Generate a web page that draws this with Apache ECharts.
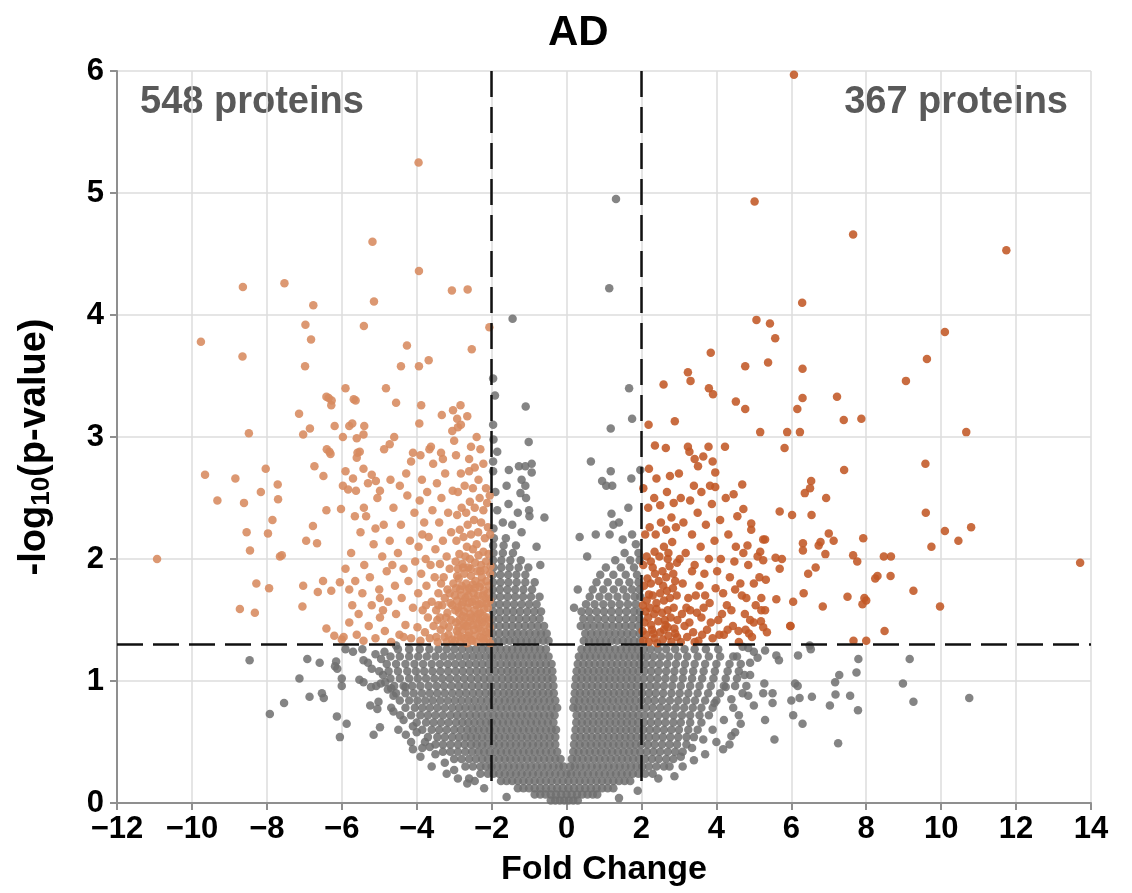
<!DOCTYPE html>
<html><head><meta charset="utf-8">
<script src="https://cdn.jsdelivr.net/npm/echarts@6/dist/echarts.min.js"></script>
<style>html,body{margin:0;padding:0;background:#fff}#c{width:1132px;height:893px}</style>
</head><body><div id="c"></div>
<script>
const chartTitle = 'AD';
const xAxisName = 'Fold Change';
const downLabel = '548 proteins';
const upLabel = '367 proteins';
const foldCut = 2;
const pCut = 1.301;
const xRange = [-12, 14, 2];
const yRange = [0, 6, 1];

// grey (not significant) points, dense rows: [y, [x ...]]
const grayRows = [
[0.02,[-0.42,-0.3,-0.18,-0.06,0.06,0.18,0.3]],
[0.07,[-0.85,-0.7,-0.56,-0.42,-0.28,-0.14,0,0.14,0.28,0.42,0.56,0.7,0.82]],
[0.12,[-1.3,-1.15,-1,-0.85,-0.7,-0.55,-0.4,-0.25,-0.1,0.05,0.2,0.35,0.5,0.65,0.8,0.95,1.1,1.25]],
[0.18,[-1.75,-1.6,-1.45,-1.3,-1.15,-1,-0.85,-0.7,-0.55,-0.4,-0.25,-0.1,0.05,0.2,0.35,0.5,0.65,0.8,0.95,1.1,1.25,1.4,1.55,1.7]],
[0.24,[-2.3,-2.1,-1.95,-1.8,-1.65,-1.5,-1.35,-1.2,-1.05,-0.9,-0.75,-0.6,-0.45,-0.3,-0.15,0,0.12,0.27,0.42,0.57,0.72,0.87,1.02,1.17,1.32,1.47,1.62,1.77,1.92,2.1,2.3]],
[0.30,[-2.7,-2.5,-2.3,-2.15,-2,-1.85,-1.7,-1.55,-1.4,-1.25,-1.1,-0.95,-0.8,-0.65,-0.5,-0.35,-0.2,-0.08,0.1,0.22,0.37,0.52,0.67,0.82,0.97,1.12,1.27,1.42,1.57,1.72,1.87,2.02,2.2,2.4,2.6]],
[0.36,[-3.0,-2.8,-2.6,-2.42,-2.25,-2.1,-1.95,-1.8,-1.65,-1.5,-1.35,-1.2,-1.05,-0.9,-0.75,-0.6,-0.45,-0.3,-0.16,0.14,0.28,0.43,0.58,0.73,0.88,1.03,1.18,1.33,1.48,1.63,1.78,1.93,2.1,2.28,2.46,2.66,2.85]],
[0.42,[-3.3,-3.1,-2.9,-2.7,-2.52,-2.35,-2.2,-2.05,-1.9,-1.75,-1.6,-1.45,-1.3,-1.15,-1,-0.85,-0.7,-0.55,-0.4,-0.25,0.18,0.32,0.47,0.62,0.77,0.92,1.07,1.22,1.37,1.52,1.67,1.82,1.97,2.14,2.32,2.5,2.7,2.9,3.1]],
[0.48,[-3.5,-3.3,-3.1,-2.9,-2.72,-2.55,-2.4,-2.25,-2.1,-1.95,-1.8,-1.65,-1.5,-1.35,-1.2,-1.05,-0.9,-0.75,-0.6,-0.45,-0.3,0.2,0.35,0.5,0.65,0.8,0.95,1.1,1.25,1.4,1.55,1.7,1.85,2.0,2.17,2.35,2.55,2.75,2.95,3.2]],
[0.54,[-3.7,-3.45,-3.25,-3.05,-2.87,-2.7,-2.55,-2.4,-2.25,-2.1,-1.95,-1.8,-1.65,-1.5,-1.35,-1.2,-1.05,-0.9,-0.75,-0.6,-0.45,-0.3,0.22,0.37,0.52,0.67,0.82,0.97,1.12,1.27,1.42,1.57,1.72,1.87,2.03,2.2,2.38,2.57,2.77,2.98,3.2,3.4]],
[0.60,[-3.85,-3.6,-3.4,-3.2,-3.0,-2.82,-2.65,-2.5,-2.35,-2.2,-2.05,-1.9,-1.75,-1.6,-1.45,-1.3,-1.15,-1,-0.85,-0.7,-0.55,-0.4,-0.28,0.24,0.39,0.54,0.69,0.84,0.99,1.14,1.29,1.44,1.59,1.74,1.89,2.05,2.22,2.4,2.6,2.8,3.0,3.25,3.5]],
[0.66,[-4.0,-3.75,-3.55,-3.35,-3.15,-2.95,-2.78,-2.62,-2.46,-2.3,-2.15,-2.0,-1.85,-1.7,-1.55,-1.4,-1.25,-1.1,-0.95,-0.8,-0.65,-0.5,-0.35,0.26,0.41,0.56,0.71,0.86,1.01,1.16,1.31,1.46,1.61,1.76,1.91,2.07,2.25,2.44,2.64,2.85,3.05,3.3,3.6]],
[0.72,[-4.15,-3.9,-3.7,-3.5,-3.3,-3.1,-2.92,-2.75,-2.58,-2.42,-2.26,-2.1,-1.95,-1.8,-1.65,-1.5,-1.35,-1.2,-1.05,-0.9,-0.75,-0.6,-0.45,-0.32,0.27,0.42,0.57,0.72,0.87,1.02,1.17,1.32,1.47,1.62,1.77,1.92,2.08,2.26,2.45,2.65,2.86,3.08,3.3,3.55,3.8]],
[0.78,[-4.3,-4.05,-3.85,-3.65,-3.45,-3.25,-3.05,-2.87,-2.7,-2.53,-2.37,-2.21,-2.05,-1.9,-1.75,-1.6,-1.45,-1.3,-1.15,-1,-0.85,-0.7,-0.55,-0.4,-0.25,0.18,0.3,0.45,0.6,0.75,0.9,1.05,1.2,1.35,1.5,1.65,1.8,1.95,2.12,2.3,2.5,2.7,2.92,3.14,3.37,3.6,3.9]],
[0.84,[-4.45,-4.2,-3.98,-3.77,-3.57,-3.37,-3.17,-2.98,-2.8,-2.62,-2.45,-2.28,-2.12,-1.96,-1.8,-1.65,-1.5,-1.35,-1.2,-1.05,-0.9,-0.75,-0.6,-0.45,-0.3,0.2,0.34,0.49,0.64,0.79,0.94,1.09,1.24,1.39,1.54,1.69,1.84,2.0,2.17,2.35,2.55,2.76,2.98,3.2,3.43,3.7,4.0]],
[0.90,[-4.55,-4.3,-4.08,-3.86,-3.65,-3.45,-3.25,-3.05,-2.86,-2.68,-2.5,-2.33,-2.16,-2.0,-1.84,-1.68,-1.53,-1.38,-1.23,-1.08,-0.93,-0.78,-0.63,-0.48,-0.34,0.22,0.36,0.51,0.66,0.81,0.96,1.11,1.26,1.41,1.56,1.71,1.86,2.02,2.2,2.38,2.58,2.8,3.02,3.25,3.5,3.78,4.1]],
[0.96,[-4.6,-4.35,-4.12,-3.9,-3.68,-3.47,-3.27,-3.07,-2.88,-2.7,-2.52,-2.35,-2.18,-2.02,-1.86,-1.7,-1.55,-1.4,-1.25,-1.1,-0.95,-0.8,-0.65,-0.5,-0.35,0.23,0.38,0.53,0.68,0.83,0.98,1.13,1.28,1.43,1.58,1.73,1.88,2.04,2.22,2.4,2.6,2.82,3.05,3.3,3.55,3.85,4.2,4.5]],
[1.02,[-4.7,-4.45,-4.2,-3.97,-3.75,-3.53,-3.32,-3.12,-2.92,-2.73,-2.55,-2.37,-2.2,-2.04,-1.88,-1.72,-1.56,-1.41,-1.26,-1.11,-0.96,-0.81,-0.66,-0.51,-0.37,0.25,0.4,0.55,0.7,0.85,1.0,1.15,1.3,1.45,1.6,1.75,1.9,2.06,2.24,2.43,2.64,2.86,3.1,3.35,3.62,3.92,4.25,4.55]],
[1.08,[-4.75,-4.5,-4.25,-4.02,-3.8,-3.58,-3.37,-3.16,-2.96,-2.77,-2.58,-2.4,-2.23,-2.06,-1.9,-1.74,-1.58,-1.43,-1.28,-1.13,-0.98,-0.83,-0.68,-0.53,-0.38,0.27,0.42,0.57,0.72,0.87,1.02,1.17,1.32,1.47,1.62,1.77,1.92,2.08,2.26,2.45,2.66,2.88,3.12,3.38,3.66,3.96,4.3,4.6]],
[1.14,[-4.8,-4.55,-4.3,-4.06,-3.83,-3.6,-3.38,-3.17,-2.97,-2.78,-2.6,-2.42,-2.25,-2.08,-1.92,-1.76,-1.6,-1.45,-1.3,-1.15,-1.0,-0.85,-0.7,-0.55,-0.4,0.3,0.45,0.6,0.75,0.9,1.05,1.2,1.35,1.5,1.65,1.8,1.95,2.11,2.29,2.48,2.69,2.92,3.16,3.42,3.7,4.0,4.35,4.65]],
[1.20,[-4.7,-4.45,-4.2,-3.96,-3.73,-3.5,-3.28,-3.07,-2.87,-2.68,-2.5,-2.33,-2.16,-2.0,-1.84,-1.68,-1.53,-1.38,-1.23,-1.08,-0.93,-0.78,-0.63,-0.48,0.33,0.48,0.63,0.78,0.93,1.08,1.23,1.38,1.53,1.68,1.83,1.98,2.14,2.32,2.52,2.74,2.97,3.22,3.5,3.8,4.1,4.45]],
[1.26,[-4.5,-4.2,-3.92,-3.66,-3.42,-3.2,-2.99,-2.79,-2.6,-2.42,-2.25,-2.08,-1.92,-1.76,-1.6,-1.45,-1.3,-1.15,-1.0,-0.85,-0.7,-0.55,0.4,0.55,0.7,0.85,1.0,1.15,1.3,1.45,1.6,1.75,1.9,2.06,2.24,2.44,2.66,2.9,3.15,3.42,3.72,4.05]],
[1.33,[-1.97,-1.82,-1.67,-1.52,-1.37,-1.22,-1.07,-0.92,-0.77,-0.62,-0.48,0.46,0.6,0.75,0.9,1.05,1.2,1.35,1.5,1.65,1.8,1.96]],
[1.39,[-1.97,-1.8,-1.63,-1.47,-1.31,-1.15,-0.99,-0.83,-0.68,-0.53,0.5,0.66,0.82,0.98,1.14,1.3,1.46,1.62,1.78,1.95]],
[1.45,[-1.96,-1.79,-1.62,-1.45,-1.28,-1.11,-0.94,-0.77,-0.6,0.38,0.55,0.72,0.89,1.06,1.23,1.4,1.57,1.74,1.92]],
[1.51,[-1.97,-1.8,-1.62,-1.44,-1.26,-1.08,-0.9,-0.72,0.45,0.64,0.83,1.02,1.21,1.4,1.59,1.78,1.95]],
[1.57,[-1.96,-1.78,-1.6,-1.42,-1.24,-1.05,-0.86,-0.68,0.4,0.6,0.8,1.0,1.2,1.4,1.6,1.8,1.96]],
[1.63,[-1.97,-1.79,-1.6,-1.4,-1.2,-1.0,-0.8,0.52,0.75,0.98,1.2,1.42,1.64,1.85]],
[1.69,[-1.96,-1.77,-1.57,-1.37,-1.16,-0.95,-0.72,0.62,0.88,1.12,1.36,1.6,1.82,1.97]],
[1.75,[-1.97,-1.78,-1.58,-1.37,-1.15,-0.92,0.7,0.98,1.26,1.52,1.75,1.95]],
[1.81,[-1.96,-1.76,-1.55,-1.33,-1.1,-0.85,0.8,1.1,1.4,1.68,1.92]],
[1.87,[-1.97,-1.77,-1.56,-1.34,-1.1,0.9,1.25,1.58,1.88]],
[1.93,[-1.95,-1.74,-1.52,-1.28,-1.02,1.05,1.45,1.8]],
[1.99,[-1.96,-1.74,-1.5,-1.22,1.3,1.7,1.95]],
[2.05,[-1.95,-1.7,-1.43,1.55,1.92]],
[2.11,[-1.96,-1.68,-1.35]],
[2.17,[-1.94,-1.62]]
];

// grey scattered points: [x, y]
const graySparse = [
[-8.46,1.17],[-7.92,0.73],[-7.54,0.82],[-7.13,1.02],[-6.92,1.18],[-6.59,1.15],[-6.86,0.87],[-6.53,0.9],[-6.48,0.86],[-6.15,1.16],[-6.12,1.1],[-6.18,1.12],[-6.13,0.71],[-5.87,0.65],[-6.05,0.54],[-6.0,1.02],[-6.0,0.96],[-5.9,1.26],[-5.45,1.26],[-5.42,1.17],[-5.2,1.1],[-5.53,1.01],[-5.42,0.99],[-5.22,0.95],[-5.08,0.96],[-4.96,0.98],[-4.84,0.99],[-4.77,0.93],[-4.68,0.94],[-5.24,0.8],[-5.02,0.83],[-5.05,0.77],[-4.68,0.78],[-4.62,0.75],[-4.44,0.72],[-4.98,0.62],[-5.15,0.56],[-4.49,0.6],[-4.29,0.56],[-4.15,0.5],[-4.86,1.24],[-4.95,1.18],[-5.1,1.22],[-5.7,1.24],[-5.3,1.15],[-3.2,0.24],[-2.6,0.2],[-2.45,0.18],[-3.9,0.38],[-3.6,0.3],[-2.9,0.2],[-4.1,0.44],[-3.85,0.45],
[-4.9,1.05],[-4.62,0.88],[-4.35,0.68],[-4.0,0.58],[-3.78,0.5],[-3.5,0.4],[-3.25,0.33],[-3.0,0.27],[-2.65,0.16],[-2.2,0.12],[-1.6,0.05],[-4.55,1.29],[-4.3,0.95],[-5.0,1.08],[-4.1,0.63],[-3.65,0.46],
[-1.95,2.25],[-1.7,2.3],[-1.45,2.28],[-1.2,2.22],[-1.85,2.4],[-1.55,2.45],[-1.3,2.38],[-1.0,2.4],[-1.9,2.55],[-1.6,2.6],[-1.23,2.54],[-1.08,2.5],[-1.96,2.72],[-1.54,2.73],[-1.27,2.76],[-1.1,2.76],[-0.93,2.78],[-0.93,2.71],[-1.2,2.65],[-1.1,2.6],[-1.85,2.88],[-1.96,2.8],[-1.01,2.96],[-1.95,2.98],[-1.96,3.1],[-1.91,3.34],[-1.96,3.48],[-1.09,3.25],[-0.59,2.34],[-0.99,2.35],[-0.8,2.1],[-0.7,1.95],[-1.44,3.97],
[1.67,3.4],[1.75,3.15],[1.18,3.07],[0.65,2.8],[1.18,2.72],[0.95,2.64],[1.06,2.6],[1.22,2.6],[1.73,2.66],[1.97,2.73],[1.65,2.42],[1.2,2.37],[1.25,2.28],[1.4,2.3],[0.35,2.18],[0.78,2.2],[1.15,2.2],[1.5,2.16],[1.75,2.2],[1.85,2.12],[0.55,2.02],[1.32,4.95],[1.14,4.22],[0.3,1.75],[0.2,1.6],
[4.7,0.9],[4.45,0.78],[4.2,0.68],[3.9,0.6],[3.65,0.52],[3.35,0.45],[3.05,0.38],[2.75,0.3],[2.45,0.2],[1.9,0.1],[1.4,0.04],[4.55,1.2],[4.25,0.95],[3.95,0.82],[4.9,1.05],
[10.75,0.86],[9.26,0.83],[8.98,0.98],[9.16,1.18],[7.79,1.18],[7.74,1.07],[7.78,0.76],[7.28,1.05],[7.17,0.99],[7.18,0.89],[7.57,0.88],[7.03,0.8],[7.25,0.49],[6.49,1.29],[6.52,1.26],[6.18,1.21],[6.1,0.98],[6.17,0.96],[6.0,0.84],[6.22,0.86],[6.55,0.87],[6.05,0.72],[6.3,0.65],[5.6,1.21],[5.67,1.17],[5.5,0.9],[5.5,0.82],[5.55,0.52],[5.3,0.68],[5.25,0.9],[5.28,0.98],[5.1,1.19],[5.0,1.24],[4.8,0.96],[4.85,0.88],[5.0,0.8],[4.6,0.72],[4.4,0.55],[4.5,0.58],[4.0,0.5],[4.18,0.44],[4.35,0.48],[2.88,0.22],[4.7,1.28],[4.9,1.15],[5.3,1.25],[4.65,0.65],[4.75,1.05],[3.4,0.35],[3.7,0.4],[3.1,0.3],[4.85,1.27],[4.4,0.85]
];

// significant, lower (left)
const downPoints = [
[-3.95,5.25],[-5.18,4.6],[-3.94,4.36],[-8.64,4.23],[-7.53,4.26],[-3.06,4.2],[-2.64,4.21],[-5.14,4.11],[-6.76,4.08],[-6.97,3.92],[-5.41,3.91],[-2.06,3.9],[-9.76,3.78],[-6.82,3.8],[-4.26,3.75],[-2.53,3.72],[-8.65,3.66],[-6.98,3.58],[-4.42,3.58],[-3.94,3.58],[-3.68,3.63],[-5.9,3.4],[-4.82,3.4],[-6.41,3.33],[-6.35,3.32],[-6.27,3.3],[-6.28,3.26],[-5.68,3.31],[-5.63,3.3],[-4.55,3.28],[-3.88,3.26],[-2.83,3.26],[-3.03,3.22],[-2.65,3.17],[-7.14,3.19],[-3.33,3.18],[-2.92,3.15],[-2.9,3.08],[-2.82,3.1],[-3.93,3.11],[-6.19,3.09],[-5.8,3.09],[-5.72,3.11],[-5.4,3.09],[-6.85,3.07],[-7.03,3.02],[-8.48,3.03],[-5.97,3.0],[-5.6,2.99],[-5.42,3.02],[-4.6,3.0],[-4.72,2.94],[-4.87,2.9],[-2.4,3.0],[-2.55,2.92],[-2.3,2.9],[-2.22,2.78],[-2.45,2.75],[-2.6,2.72],[-3.66,2.9],[-4.1,2.87],[-3.35,2.87],[-3.0,2.97],[-3.05,3.05],[-6.4,2.9],[-6.33,2.88],[-6.3,2.86],[-5.58,2.87],[-5.52,2.88],[-5.6,2.83],[-6.73,2.76],[-6.49,2.68],[-8.03,2.74],[-9.65,2.69],[-8.84,2.66],[-7.71,2.61],[-5.9,2.72],[-5.7,2.66],[-5.97,2.6],[-5.83,2.57],[-5.42,2.74],[-5.2,2.69],[-5.09,2.64],[-4.98,2.56],[-9.32,2.48],[-8.61,2.46],[-8.16,2.55],[-7.7,2.49],[-6.41,2.4],[-6.02,2.41],[-5.41,2.42],[-7.85,2.32],[-7.97,2.21],[-8.54,2.22],[-8.45,2.07],[-7.65,2.02],[-7.6,2.03],[-10.93,2.0],[-6.77,2.27],[-6.95,2.15],[-6.66,2.13],[-8.28,1.8],[-7.94,1.76],[-8.72,1.59],[-8.32,1.56],[-7.03,1.78],[-6.5,1.82],[-6.64,1.73],[-6.28,1.74],[-6.05,1.81],[-5.64,1.82],[-7.05,1.61],[-6.41,1.43],[-6.2,1.37],[-6.0,1.34],
[-5.95,1.36],[-5.8,1.48],[-5.72,1.62],[-5.9,1.92],[-5.75,2.05],[-5.6,1.38],[-5.55,1.55],[-5.45,1.72],[-5.5,2.22],[-5.4,1.95],[-5.35,2.35],[-5.28,1.45],[-5.25,1.85],[-5.2,1.62],[-5.15,2.12],[-5.1,1.35],[-5.05,2.5],[-5.0,1.75],[-4.98,1.52],[-4.92,2.02],[-4.88,2.28],[-4.85,1.41],[-4.8,1.9],[-4.76,1.65],[-4.72,2.15],[-4.68,1.32],[-4.62,2.42],[-4.58,1.78],[-4.55,1.55],[-4.5,2.05],[-4.46,1.38],[-4.42,2.28],[-4.4,1.68],[-4.35,1.92],[-4.3,1.46],[-4.25,2.52],[-4.22,1.82],[-4.18,2.15],[-4.15,1.35],[-4.1,1.6],[-4.06,2.38],[-4.04,1.98],[-5.62,2.56],[-5.3,2.62],[-4.7,2.65],[-4.45,2.6],[-4.9,1.58],[-5.42,1.33],[-4.98,1.68],[-5.1,2.25],[-4.65,1.95],[-4.35,1.36],[-5.8,1.75],[-5.65,2.35],[-4.28,2.7],[-4.15,2.8],
[-3.98,1.44],[-3.96,1.72],[-3.95,2.1],[-3.92,2.48],[-3.9,1.33],[-3.88,1.88],[-3.86,2.65],[-3.84,1.58],[-3.8,2.3],[-3.78,1.4],[-3.76,2.0],[-3.74,1.78],[-3.72,2.55],[-3.7,1.52],[-3.68,2.18],[-3.65,1.35],[-3.63,1.95],[-3.6,1.65],[-3.58,2.4],[-3.56,2.78],[-3.55,1.45],[-3.52,1.85],[-3.5,2.08],[-3.48,1.58],[-3.46,2.62],[-3.44,1.32],[-3.42,1.72],[-3.4,2.3],[-3.38,1.96],[-3.36,1.42],[-3.34,2.5],[-3.32,1.62],[-3.3,2.15],[-3.28,1.85],[-3.26,1.36],[-3.24,2.7],[-3.22,1.52],[-3.2,2.02],[-3.18,1.75],[-3.16,2.38],[-3.14,1.44],[-3.12,1.92],[-3.1,1.64],[-3.08,2.22],[-3.06,1.34],[-3.04,2.56],[-3.02,1.8],[-3.9,2.85],[-3.62,2.92],[-3.3,2.82],[-3.75,1.62],[-3.45,1.5],[-3.85,2.2],[-3.15,1.38],
[-3.48,1.36],[-3.38,1.52],[-3.28,1.46],[-3.18,1.56],[-3.08,1.5],[-3.25,1.68],[-3.12,1.72],[-3.35,1.8],[-3.05,1.62],[-3.42,1.62],[-3.2,1.32],
[-2.98,1.33],[-2.9,1.38],[-2.84,1.32],[-2.78,1.42],[-2.72,1.35],[-2.66,1.31],[-2.6,1.4],[-2.55,1.34],[-2.5,1.46],[-2.45,1.37],[-2.4,1.32],[-2.35,1.43],[-2.3,1.36],[-2.25,1.48],[-2.2,1.33],[-2.15,1.4],[-2.1,1.35],[-2.05,1.44],[-2.95,1.48],[-2.86,1.5],[-2.75,1.47],[-2.68,1.52],[-2.58,1.49],[-2.42,1.52],[-2.32,1.5],[-2.12,1.52],[-2.04,1.31],
[-2.97,1.58],[-2.92,1.66],[-2.87,1.56],[-2.8,1.62],[-2.74,1.57],[-2.7,1.68],[-2.64,1.6],[-2.57,1.55],[-2.52,1.65],[-2.46,1.58],[-2.4,1.62],[-2.36,1.7],[-2.3,1.56],[-2.26,1.64],[-2.2,1.59],[-2.16,1.68],[-2.1,1.6],[-2.05,1.66],[-2.62,1.7],[-2.82,1.7],[-2.48,1.72],
[-2.95,1.76],[-2.88,1.84],[-2.8,1.78],[-2.73,1.88],[-2.68,1.8],[-2.6,1.76],[-2.55,1.86],[-2.5,1.79],[-2.43,1.82],[-2.38,1.9],[-2.32,1.77],[-2.26,1.85],[-2.2,1.74],[-2.14,1.82],[-2.08,1.78],[-2.04,1.88],[-2.9,1.92],[-2.62,1.93],
[-2.96,1.98],[-2.86,2.04],[-2.78,1.96],[-2.7,2.02],[-2.58,2.0],[-2.5,2.08],[-2.44,1.97],[-2.35,2.03],[-2.28,1.95],[-2.22,2.06],[-2.15,1.98],[-2.08,2.04],[-2.03,1.94],[-2.66,2.1],[-2.4,2.12],
[-2.94,2.15],[-2.85,2.24],[-2.75,2.18],[-2.64,2.28],[-2.55,2.2],[-2.47,2.32],[-2.36,2.22],[-2.28,2.3],[-2.18,2.17],[-2.1,2.26],[-2.04,2.2],[-2.92,2.36],[-2.8,2.42],[-2.68,2.38],[-2.58,2.47],[-2.45,2.42],[-2.32,2.5],[-2.22,2.4],[-2.12,2.46],[-2.9,2.55],[-2.72,2.6],[-2.5,2.58],[-2.35,2.65],[-2.15,2.58],[-2.05,2.52],[-2.82,2.7],[-2.6,2.82],[-2.95,2.85],
[-2.93,1.41],[-2.81,1.36],[-2.7,1.45],[-2.63,1.37],[-2.52,1.33],[-2.47,1.42],[-2.38,1.47],[-2.28,1.41],[-2.23,1.35],[-2.17,1.46],[-2.08,1.39],[-2.88,1.44],[-2.77,1.53],[-2.65,1.45],[-2.54,1.52],[-2.36,1.55],[-2.21,1.53],[-2.07,1.5],[-2.9,1.6],[-2.76,1.65],[-2.6,1.64],[-2.44,1.67],[-2.33,1.63],[-2.23,1.7],[-2.12,1.64],[-2.98,1.7],[-2.84,1.75],[-2.66,1.74],[-2.45,1.76],[-2.28,1.8],[-2.1,1.72],[-2.92,1.86],[-2.76,1.93],[-2.56,1.92],[-2.3,1.9],[-2.18,1.91]
];

// significant, higher (right)
const upPoints = [
[6.07,5.97],[5.02,4.93],[7.65,4.66],[11.74,4.53],[6.29,4.1],[5.07,3.96],[5.43,3.93],[10.1,3.86],[5.57,3.81],[3.85,3.69],[9.62,3.64],[3.24,3.53],[3.31,3.46],[2.59,3.43],[9.06,3.46],[3.8,3.4],[3.91,3.35],[4.77,3.58],[5.38,3.61],[6.3,3.56],[4.52,3.29],[4.77,3.23],[6.3,3.32],[6.16,3.23],[7.22,3.33],[7.4,3.14],[7.87,3.15],[2.19,3.1],[2.89,3.13],[5.17,3.04],[5.89,3.04],[6.23,3.04],[10.67,3.04],[5.82,2.91],[2.36,2.93],[2.65,2.91],[3.24,2.92],[3.28,2.88],[3.79,2.92],[4.23,2.92],[3.42,2.82],[3.51,2.76],[3.65,2.84],[3.9,2.8],[3.97,2.71],[3.83,2.6],[3.97,2.59],[2.2,2.74],[3.0,2.7],[7.41,2.73],[9.58,2.78],[6.53,2.64],[6.5,2.58],[6.36,2.54],[6.93,2.5],[4.69,2.61],[4.46,2.53],[9.59,2.38],[10.1,2.23],[10.46,2.15],[10.8,2.26],[9.74,2.1],[5.69,2.39],[6.02,2.36],[6.54,2.36],[13.71,1.97],[7.65,2.03],[7.76,1.98],[8.47,2.02],[8.66,2.02],[8.3,1.86],[8.24,1.84],[8.65,1.86],[9.26,1.74],[7.5,1.69],[7.95,1.68],[8.0,1.66],[7.9,1.63],[9.97,1.61],[8.49,1.41],[7.66,1.33],[8.0,1.33],[6.84,1.61],[6.33,1.72],[6.05,1.65],[5.97,1.45],
[7.0,2.21],[7.13,2.15],[7.92,2.17],[6.91,2.04],[6.73,2.11],[6.78,2.14],[6.65,1.93],[6.45,1.88],[6.31,2.13],[6.31,2.07],[5.58,2.01],[5.75,2.0],[5.69,1.92],[5.25,1.99],[5.32,1.83],[5.17,2.06],[4.93,2.29],[4.93,2.24],[4.83,2.11],[5.25,2.16],[5.3,2.16],[4.72,2.41],[5.6,1.67],[5.2,1.68],[5.3,1.58],[5.0,1.48],[5.19,1.49],[5.35,1.4],[4.78,1.42],[4.87,1.39],[4.59,1.41],[4.3,1.42],[5.98,1.45],
[2.05,1.33],[2.12,1.38],[2.2,1.32],[2.28,1.42],[2.35,1.35],[2.42,1.31],[2.5,1.4],[2.57,1.34],[2.64,1.46],[2.72,1.37],[2.8,1.32],[2.88,1.43],[2.95,1.36],[2.08,1.48],[2.18,1.52],[2.26,1.46],[2.34,1.55],[2.45,1.49],[2.55,1.56],[2.62,1.5],[2.7,1.58],[2.78,1.52],[2.86,1.6],[2.96,1.5],[2.04,1.62],[2.14,1.66],[2.22,1.6],[2.3,1.7],[2.4,1.64],[2.5,1.72],[2.6,1.66],[2.68,1.74],[2.76,1.68],[2.84,1.76],[2.94,1.7],[2.07,1.78],[2.16,1.84],[2.25,1.8],[2.36,1.88],[2.46,1.82],[2.56,1.9],[2.66,1.85],[2.75,1.94],[2.85,1.88],[2.95,1.97],[2.05,1.95],[2.14,2.02],[2.25,1.98],[2.35,2.06],[2.48,2.02],[2.6,2.1],[2.72,2.05],[2.82,2.14],[2.1,2.2],[2.22,2.26],[2.38,2.2],[2.52,2.3],[2.66,2.24],[2.8,2.34],[2.92,2.26],[2.18,2.42],[2.34,2.5],[2.5,2.44],[2.68,2.55],[2.86,2.46],[2.05,2.58],[2.4,2.66],[2.76,2.68],[2.03,1.41],[2.32,1.39],[2.6,1.42],[2.9,1.39],[2.11,1.57],[2.4,1.59],[2.7,1.44],[2.2,1.71],[2.58,1.78],[2.9,1.82],[2.3,1.93],[2.7,2.0],
[3.05,1.32],[3.15,1.45],[3.22,1.36],[3.3,1.58],[3.38,1.4],[3.45,1.7],[3.52,1.33],[3.6,1.52],[3.68,1.88],[3.75,1.42],[3.82,1.64],[3.9,1.35],[3.98,1.76],[4.05,1.5],[4.12,2.0],[4.2,1.38],[4.28,1.62],[4.36,1.85],[4.44,1.45],[4.52,2.1],[4.6,1.32],[4.68,1.7],[4.76,1.55],[4.85,1.95],[4.95,1.36],[5.05,1.62],[5.15,1.85],[5.25,1.44],[3.1,1.8],[3.18,2.05],[3.25,1.68],[3.35,2.2],[3.42,1.95],[3.5,2.38],[3.58,2.1],[3.66,1.6],[3.72,2.28],[3.8,2.0],[3.88,2.45],[3.95,2.15],[4.02,1.9],[4.1,2.32],[4.18,1.72],[4.25,2.5],[4.32,2.2],[4.4,1.58],[4.48,1.98],[4.56,2.35],[4.64,1.8],[4.72,2.05],[4.8,1.68],[4.9,1.5],[5.0,1.8],[5.1,2.02],[5.2,1.58],[3.08,1.55],[3.28,1.48],[3.48,1.56],[3.62,1.38],[3.85,1.48],[4.08,1.38],[3.35,1.9],[3.55,1.78],[3.12,2.3],[3.3,2.48],[3.6,2.55],[3.42,1.32],[3.7,1.7],[4.15,1.55],[4.5,1.75],[3.2,1.6],[3.02,2.0],[3.4,2.6],[3.05,2.5]
];

const grayPoints = grayRows.flatMap(([y, xs]) => xs.map(x => [x, y])).concat(graySparse);

const FONT = '"Liberation Sans", Arial, Helvetica, sans-serif';
const minus = v => (v < 0 ? '\u2212' + Math.abs(v) : String(v));
const chart = echarts.init(document.getElementById('c'), null, { renderer: 'canvas' });
const axisGray = '#8f8f8f';
chart.setOption({
  animation: false,
  backgroundColor: '#ffffff',
  title: { text: chartTitle, left: 543, top: 7, textStyle: { fontFamily: FONT, fontSize: 42, fontWeight: 'bold', color: '#000' } },
  grid: { left: 117, right: 41, top: 71, bottom: 90, containLabel: false },
  xAxis: {
    type: 'value', min: xRange[0], max: xRange[1], interval: xRange[2],
    name: xAxisName, nameLocation: 'middle', nameGap: 50,
    nameTextStyle: { fontFamily: FONT, fontSize: 34, fontWeight: 'bold', color: '#000' },
    axisLine: { show: true, onZero: false, lineStyle: { color: axisGray, width: 2 } },
    axisTick: { show: true, length: 7, lineStyle: { color: axisGray, width: 2 } },
    axisLabel: { formatter: minus, margin: 11, fontFamily: FONT, fontSize: 31, fontWeight: 'bold', color: '#000' },
    splitLine: { show: true, lineStyle: { color: '#dcdcdc', width: 1.5 } }
  },
  yAxis: {
    type: 'value', min: yRange[0], max: yRange[1], interval: yRange[2],
    name: '{n|-log}{s|10}{n|(p-value)}', nameLocation: 'middle', nameGap: 62, nameRotate: 90,
    nameTextStyle: { fontFamily: FONT, fontWeight: 'bold', color: '#000', padding: [0, 20, 0, 0],
      rich: { n: { fontFamily: FONT, fontSize: 38, fontWeight: 'bold', color: '#000' },
              s: { fontFamily: FONT, fontSize: 26, fontWeight: 'bold', color: '#000', verticalAlign: 'bottom', padding: [14, 0, 0, 0] } } },
    axisLine: { show: true, onZero: false, lineStyle: { color: axisGray, width: 2 } },
    axisTick: { show: true, length: 7, lineStyle: { color: axisGray, width: 2 } },
    axisLabel: { margin: 13, fontFamily: FONT, fontSize: 31, fontWeight: 'bold', color: '#000' },
    splitLine: { show: true, lineStyle: { color: '#dcdcdc', width: 1.5 } }
  },
  series: [
    { type: 'scatter', name: 'ns', data: grayPoints, symbolSize: 8.5, silent: true,
      itemStyle: { color: '#6e6e6e', opacity: 0.85 }, z: 2 },
    { type: 'scatter', name: 'down', data: downPoints, symbolSize: 8.5, silent: true,
      itemStyle: { color: '#d78a5f', opacity: 0.88 }, z: 3 },
    { type: 'scatter', name: 'up', data: upPoints, symbolSize: 8.5, silent: true,
      itemStyle: { color: '#c15826', opacity: 0.88 }, z: 3 },
    { type: 'scatter', name: 'cut', data: [], z: 5, silent: true,
      markLine: { silent: true, symbol: 'none', animation: false, label: { show: false },
        lineStyle: { color: '#111', width: 2.5, type: [26, 10] },
        data: [
          [{ coord: [-foldCut, yRange[1]] }, { coord: [-foldCut, 0.1] }],
          [{ coord: [foldCut, yRange[1]] }, { coord: [foldCut, 0.1] }],
          [{ coord: [xRange[0], pCut] }, { coord: [xRange[1], pCut] }]
        ] } }
  ],
  graphic: [
    { type: 'text', left: 140, top: 84, silent: true, style: { text: downLabel, fontFamily: FONT, fontSize: 38, fontWeight: 'bold', fill: '#595959' } },
    { type: 'text', right: 64, top: 84, silent: true, style: { text: upLabel, fontFamily: FONT, fontSize: 38, fontWeight: 'bold', fill: '#595959' } }
  ]
});
</script>
</body></html>
